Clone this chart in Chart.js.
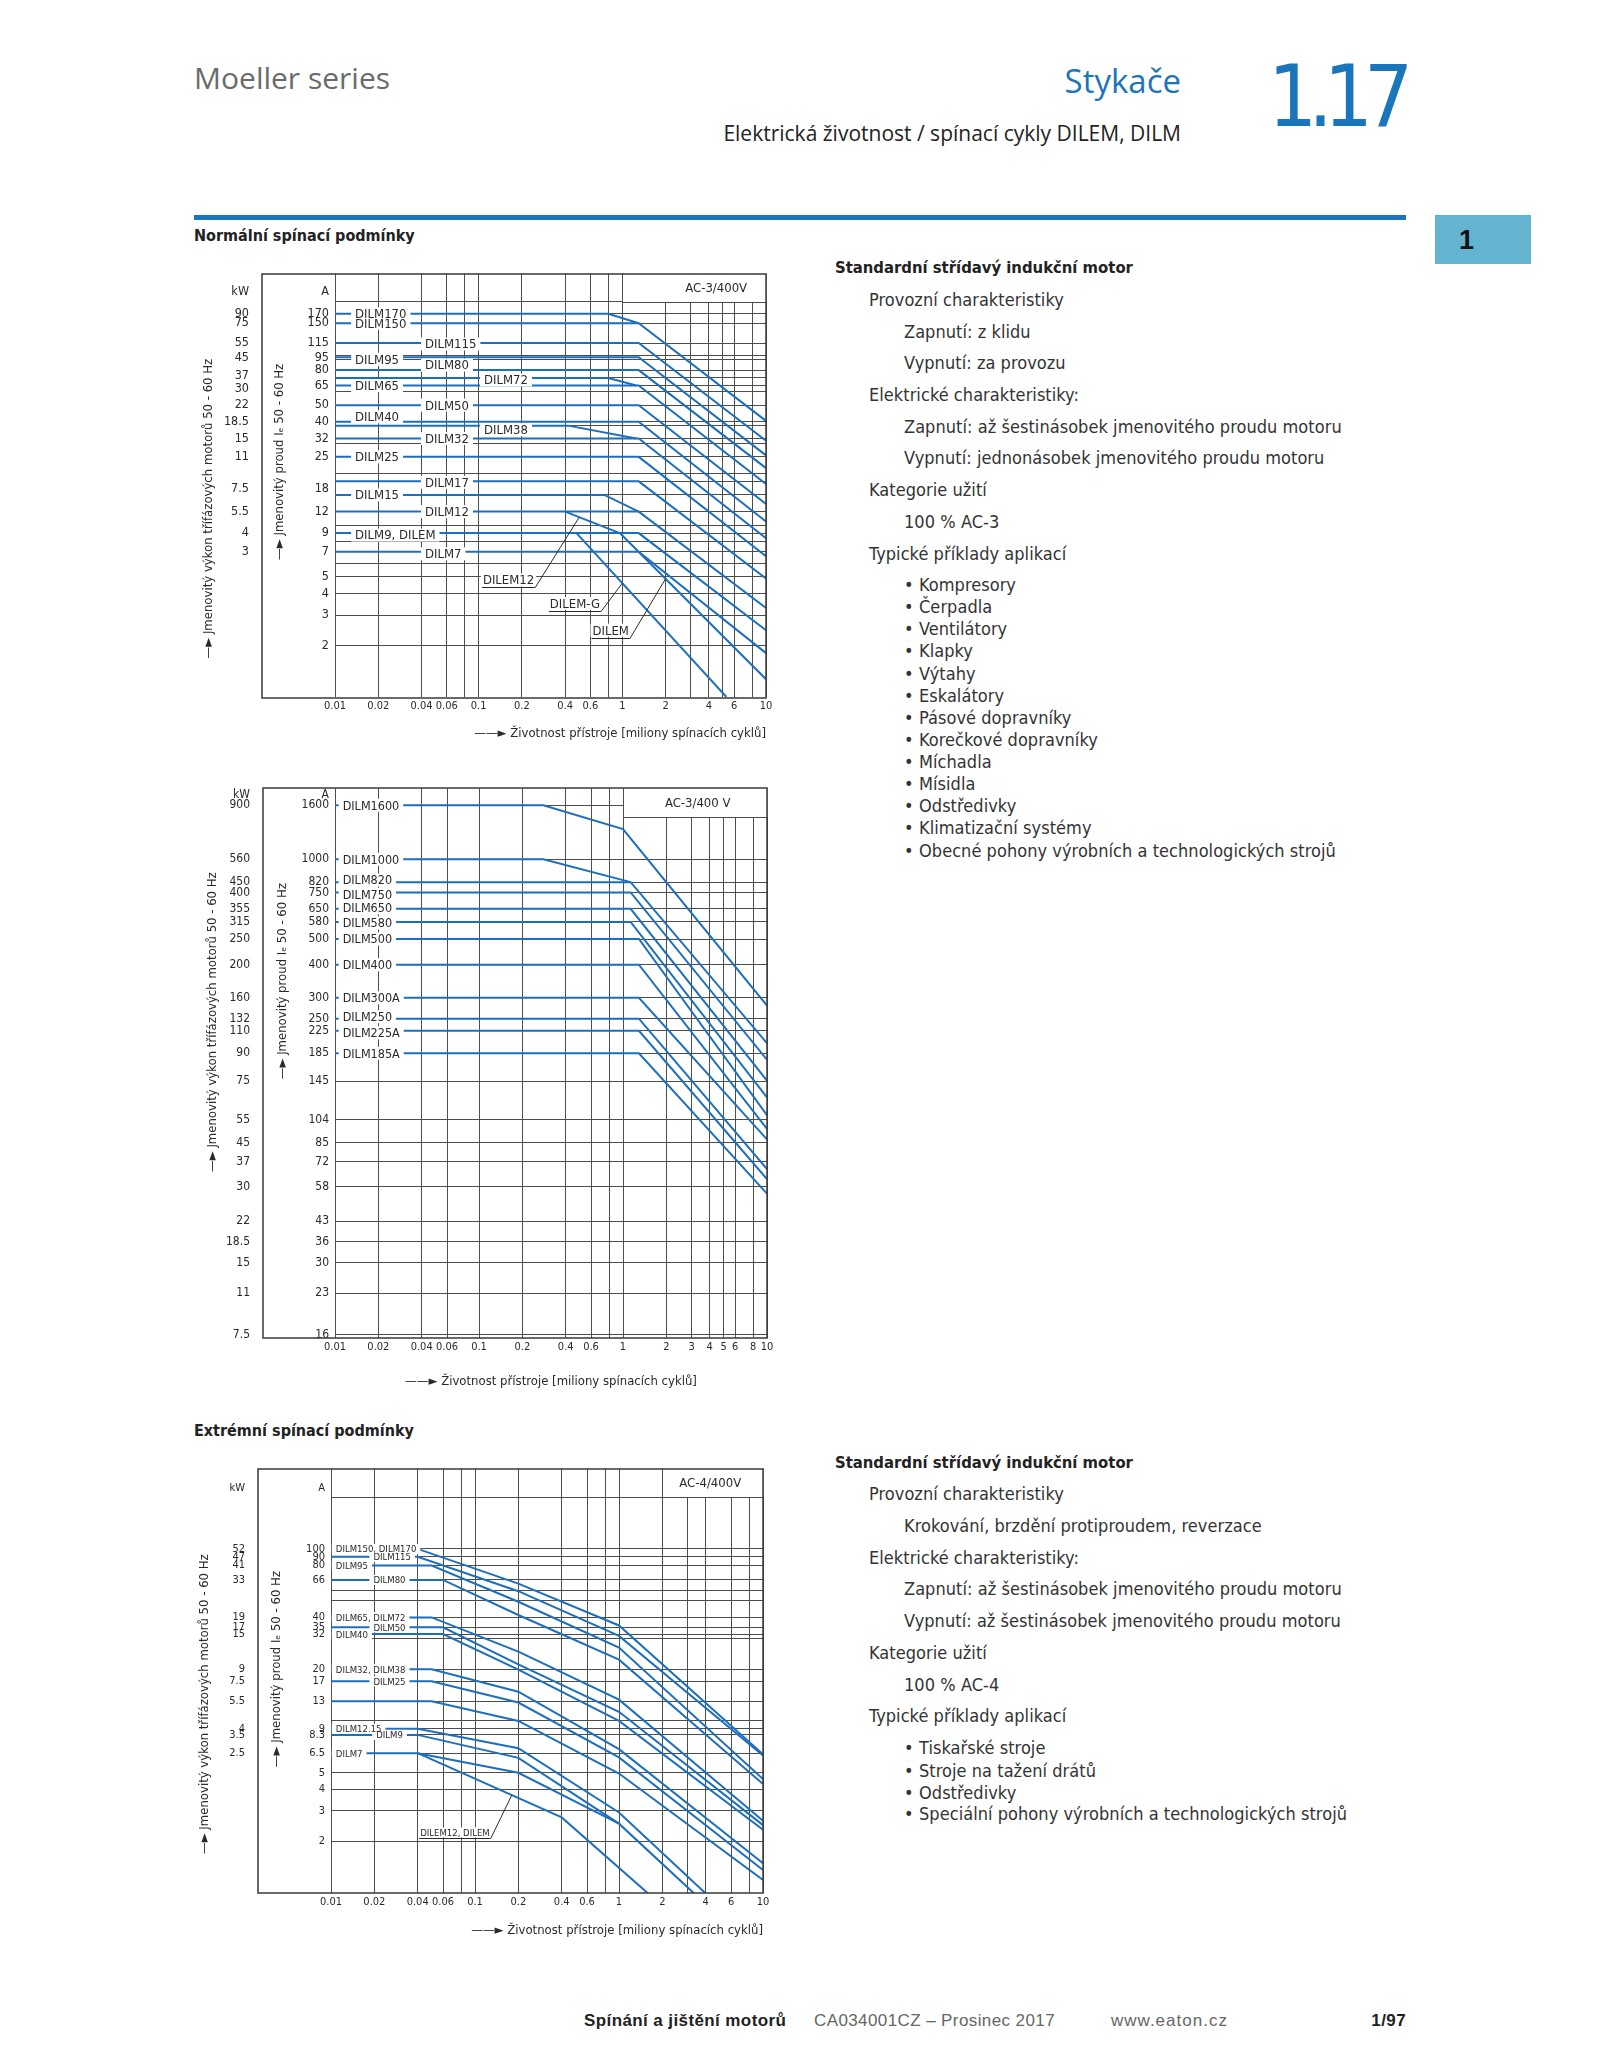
<!DOCTYPE html>
<html lang="cs">
<head>
<meta charset="utf-8">
<title>Stykače – elektrická životnost / spínací cykly DILEM, DILM</title>
<script src="https://cdn.jsdelivr.net/npm/chart.js@4.4.0/dist/chart.umd.min.js"></script>
<style>
  html, body { margin: 0; padding: 0; background: #fff; }
  body { width: 1600px; height: 2071px; position: relative; overflow: hidden;
         font-family: 'Liberation Sans', Arial, sans-serif; color: #222; }
  .t { position: absolute; white-space: nowrap; line-height: 1; transform: translateY(-50%); }
  .r { transform: translate(-100%, -50%); }
  .nar { font-family: 'Liberation Sans Narrow', 'DejaVu Sans Condensed', 'Arial Narrow', sans-serif; }
  .body { font-family: 'Liberation Sans Narrow', 'DejaVu Sans Condensed', sans-serif;
          font-size: 18px; letter-spacing: 0.05px; color: #333; }
  .head { font-family: 'Liberation Sans Narrow', 'DejaVu Sans Condensed', sans-serif;
          font-weight: bold; color: #222; }
  .bul { display: inline-block; width: 15px; }
  .foot { font-size: 17px; letter-spacing: 0.4px; }
  canvas { position: absolute; }
</style>
</head>
<body>

<!-- hlavička stránky -->
<div class="t" style="left:194px;top:78px;font-family:'Open Sans',sans-serif;font-size:30px;color:#6b6b6b">Moeller series</div>
<div class="t r" style="left:1181px;top:80px;font-family:'Open Sans',sans-serif;font-size:33px;color:#1b75bb">Stykače</div>
<div class="t r" style="left:1181px;top:133px;font-family:'Open Sans',sans-serif;font-size:21px;color:#222">Elektrická životnost / spínací cykly DILEM, DILM</div>
<div class="t nar" style="left:1268px;top:96px;font-size:86px;letter-spacing:-9px;color:#1b75bb">1.17</div>
<div style="position:absolute;left:194px;top:215px;width:1212px;height:5px;background:#1b75bb"></div>
<div style="position:absolute;left:1435px;top:215px;width:96px;height:49px;background:#63b4d1"></div>
<div class="t" style="left:1459px;top:240px;font-size:27px;font-weight:bold;color:#111">1</div>

<div class="t head" style="left:194px;top:236px;font-size:16px">Normální spínací podmínky</div>
<div class="t head" style="left:194px;top:1431px;font-size:16px">Extrémní spínací podmínky</div>

<!-- pravý sloupec, AC-3 -->
<div class="t head" style="left:835px;top:268px;font-size:16.5px">Standardní střídavý indukční motor</div>
<div class="t body" style="left:869px;top:300px">Provozní charakteristiky</div>
<div class="t body" style="left:904px;top:332px">Zapnutí: z klidu</div>
<div class="t body" style="left:904px;top:363px">Vypnutí: za provozu</div>
<div class="t body" style="left:869px;top:395px">Elektrické charakteristiky:</div>
<div class="t body" style="left:904px;top:427px">Zapnutí: až šestinásobek jmenovitého proudu motoru</div>
<div class="t body" style="left:904px;top:458px">Vypnutí: jednonásobek jmenovitého proudu motoru</div>
<div class="t body" style="left:869px;top:490px">Kategorie užití</div>
<div class="t body" style="left:904px;top:522px">100 % AC-3</div>
<div class="t body" style="left:869px;top:554px">Typické příklady aplikací</div>
<div class="t body" style="left:904px;top:585px"><span class="bul">•</span>Kompresory</div>
<div class="t body" style="left:904px;top:607px"><span class="bul">•</span>Čerpadla</div>
<div class="t body" style="left:904px;top:629px"><span class="bul">•</span>Ventilátory</div>
<div class="t body" style="left:904px;top:651px"><span class="bul">•</span>Klapky</div>
<div class="t body" style="left:904px;top:674px"><span class="bul">•</span>Výtahy</div>
<div class="t body" style="left:904px;top:696px"><span class="bul">•</span>Eskalátory</div>
<div class="t body" style="left:904px;top:718px"><span class="bul">•</span>Pásové dopravníky</div>
<div class="t body" style="left:904px;top:740px"><span class="bul">•</span>Korečkové dopravníky</div>
<div class="t body" style="left:904px;top:762px"><span class="bul">•</span>Míchadla</div>
<div class="t body" style="left:904px;top:784px"><span class="bul">•</span>Mísidla</div>
<div class="t body" style="left:904px;top:806px"><span class="bul">•</span>Odstředivky</div>
<div class="t body" style="left:904px;top:828px"><span class="bul">•</span>Klimatizační systémy</div>
<div class="t body" style="left:904px;top:851px"><span class="bul">•</span>Obecné pohony výrobních a technologických strojů</div>

<!-- pravý sloupec, AC-4 -->
<div class="t head" style="left:835px;top:1463px;font-size:16.5px">Standardní střídavý indukční motor</div>
<div class="t body" style="left:869px;top:1494px">Provozní charakteristiky</div>
<div class="t body" style="left:904px;top:1526px">Krokování, brzdění protiproudem, reverzace</div>
<div class="t body" style="left:869px;top:1558px">Elektrické charakteristiky:</div>
<div class="t body" style="left:904px;top:1589px">Zapnutí: až šestinásobek jmenovitého proudu motoru</div>
<div class="t body" style="left:904px;top:1621px">Vypnutí: až šestinásobek jmenovitého proudu motoru</div>
<div class="t body" style="left:869px;top:1653px">Kategorie užití</div>
<div class="t body" style="left:904px;top:1685px">100 % AC-4</div>
<div class="t body" style="left:869px;top:1716px">Typické příklady aplikací</div>
<div class="t body" style="left:904px;top:1748px"><span class="bul">•</span>Tiskařské stroje</div>
<div class="t body" style="left:904px;top:1771px"><span class="bul">•</span>Stroje na tažení drátů</div>
<div class="t body" style="left:904px;top:1793px"><span class="bul">•</span>Odstředivky</div>
<div class="t body" style="left:904px;top:1814px"><span class="bul">•</span>Speciální pohony výrobních a technologických strojů</div>

<!-- patička -->
<div class="t foot" style="left:584px;top:2020px;font-weight:bold;color:#222">Spínání a jištění motorů</div>
<div class="t foot" style="left:814px;top:2020px;color:#666">CA034001CZ – Prosinec 2017</div>
<div class="t foot" style="left:1111px;top:2020px;color:#666;letter-spacing:1px">www.eaton.cz</div>
<div class="t r foot" style="left:1406px;top:2020px;font-weight:bold;color:#222">1/97</div>

<canvas id="g1" width="590" height="492" style="left:190px;top:260px"></canvas>
<canvas id="g2" width="591" height="622" style="left:190px;top:775px"></canvas>
<canvas id="g3" width="591" height="492" style="left:186px;top:1456px"></canvas>

<script>
const BLUE = '#1c6fbe';
const INK = '#2a2a2a';
const GRID = '#4d4d4d';
const NARROW = "'Liberation Sans Narrow', 'DejaVu Sans Condensed', 'Arial Narrow', sans-serif";

// ---------- graf 1: normální spínací podmínky, AC-3/400V ----------
const g1XLabels = ['0.01', '0.02', '0.04', '0.06', '0.1', '0.2', '0.4', '0.6', '1', '2', '4', '6', '10'];
const g1XLabelPos = [0.01, 0.02, 0.04, 0.06, 0.1, 0.2, 0.4, 0.6, 1, 2, 4, 6, 10];
const g1XGrid = [0.01, 0.02, 0.04, 0.06, 0.08, 0.1, 0.2, 0.4, 0.6, 0.8, 1, 2, 3, 4, 5, 6, 8, 10];
const g1ALabels = ['A', '170', '150', '115', '95', '80', '65', '50', '40', '32', '25', '18', '12', '9', '7', '5', '4', '3', '2'];
const g1ALabelPos = [230, 170, 150, 115, 95, 80, 65, 50, 40, 32, 25, 16.4, 12, 9, 7, 5, 4, 3, 2];
const g1KwLabels = ['kW', '90', '75', '55', '45', '37', '30', '22', '18.5', '15', '11', '7.5', '5.5', '4', '3'];
const g1KwLabelPos = [230, 170, 150, 115, 95, 74, 62, 50, 40, 32, 25, 16.4, 12, 9, 7];
const g1YGrid = [200, 170, 150, 115, 97, 92, 80, 72, 65, 60, 50, 40, 38, 32, 30, 25, 20, 18, 15, 12, 10, 9, 8, 7, 6, 5, 4, 3, 2];

// [miliony cyklů, A]
const g1_DILM170 = [[0.01, 170], [0.8, 170], [1.3, 150]];
const g1_DILM150 = [[0.01, 150], [1.3, 150], [10, 40.5]];
const g1_DILM115 = [[0.01, 115], [1.3, 115], [10, 31]];
const g1_DILM95 = [[0.01, 95], [1.3, 95], [10, 25.5]];
const g1_DILM80 = [[0.01, 80], [1.3, 80], [10, 21.5]];
const g1_DILM72 = [[0.01, 72], [0.8, 72], [1.25, 65]];
const g1_DILM65 = [[0.01, 65], [1.3, 65], [10, 17.4]];
const g1_DILM50 = [[0.01, 50], [1.3, 50], [10, 13.3]];
const g1_DILM40 = [[0.01, 40], [1.3, 40], [10, 10.5]];
const g1_DILM38 = [[0.01, 38], [0.42, 38], [1.25, 32]];
const g1_DILM32 = [[0.01, 32], [1.3, 32], [10, 8.4]];
const g1_DILM25 = [[0.01, 25], [1.3, 25], [10, 6.6]];
const g1_DILM17 = [[0.01, 18], [1.3, 18], [10, 4.9]];
const g1_DILM15 = [[0.01, 15], [0.75, 15], [1.3, 12]];
const g1_DILM12 = [[0.01, 12], [1.3, 12], [10, 3.3]];
const g1_DILM9 = [[0.01, 9], [1.3, 9], [10, 2.45]];
const g1_DILM7 = [[0.01, 7], [1.3, 7], [10, 1.8]];
const g1_DILEM12 = [[0.4, 12], [0.96, 9]];
const g1_DILEMG = [[0.48, 9], [5.3, 1]];
const g1_DILEM = [[0.01, 9], [0.96, 9], [10, 1.27]];

// ---------- graf 2: normální spínací podmínky, velké stykače ----------
const g2XLabels = ['0.01', '0.02', '0.04', '0.06', '0.1', '0.2', '0.4', '0.6', '1', '2', '3', '4', '5', '6', '8', '10'];
const g2XLabelPos = [0.01, 0.02, 0.04, 0.06, 0.1, 0.2, 0.4, 0.6, 1, 2, 3, 4, 5, 6, 8, 10];
const g2XGrid = [0.01, 0.02, 0.04, 0.06, 0.1, 0.2, 0.4, 0.6, 0.8, 1, 2, 3, 4, 5, 6, 8, 10];
const g2ALabels = ['A', '1600', '1000', '820', '750', '650', '580', '500', '400', '300', '250', '225', '185', '145', '104', '85', '72', '58', '43', '36', '30', '23', '16'];
const g2ALabelPos = [1750, 1600, 1000, 820, 750, 650, 580, 500, 400, 300, 250, 225, 185, 145, 104, 85, 72, 58, 43, 36, 30, 23, 16];
const g2KwLabels = ['kW', '900', '560', '450', '400', '355', '315', '250', '200', '160', '132', '110', '90', '75', '55', '45', '37', '30', '22', '18.5', '15', '11', '7.5'];
const g2KwLabelPos = [1750, 1600, 1000, 820, 750, 650, 580, 500, 400, 300, 250, 225, 185, 145, 104, 85, 72, 58, 43, 36, 30, 23, 16];
const g2YGrid = [1600, 1000, 820, 750, 650, 580, 500, 400, 300, 250, 225, 185, 145, 104, 85, 72, 58, 43, 36, 30, 23, 16];

const g2_DILM1600 = [[0.01, 1600], [0.28, 1600], [1, 1300], [10, 280]];
const g2_DILM1000 = [[0.01, 1000], [0.28, 1000], [1.13, 820]];
const g2_DILM820 = [[0.01, 820], [1.13, 820], [10, 202]];
const g2_DILM750 = [[0.01, 750], [1.13, 750], [10, 175]];
const g2_DILM650 = [[0.01, 650], [1.13, 650], [10, 146]];
const g2_DILM580 = [[0.01, 580], [1.13, 580], [10, 126]];
const g2_DILM500 = [[0.01, 500], [1.29, 500], [10, 108]];
const g2_DILM400 = [[0.01, 400], [1.29, 400], [10, 96]];
const g2_DILM300A = [[0.01, 300], [1.29, 300], [10, 87.5]];
const g2_DILM250 = [[0.01, 250], [1.29, 250], [10, 67.6]];
const g2_DILM225A = [[0.01, 225], [1.29, 225], [10, 62]];
const g2_DILM185A = [[0.01, 185], [1.29, 185], [10, 54.6]];

// ---------- graf 3: extrémní spínací podmínky, AC-4/400V ----------
const g3XLabels = ['0.01', '0.02', '0.04', '0.06', '0.1', '0.2', '0.4', '0.6', '1', '2', '4', '6', '10'];
const g3XLabelPos = [0.01, 0.02, 0.04, 0.06, 0.1, 0.2, 0.4, 0.6, 1, 2, 4, 6, 10];
const g3XGrid = [0.01, 0.02, 0.04, 0.06, 0.08, 0.1, 0.2, 0.4, 0.6, 0.8, 1, 2, 3, 4, 6, 8, 10];
const g3ALabels = ['A', '100', '90', '80', '66', '40', '35', '32', '20', '17', '13', '9', '8.3', '6.5', '5', '4', '3', '2'];
const g3ALabelPos = [225, 100, 90, 80, 66, 40, 35, 32, 20, 17, 13, 9, 8.3, 6.5, 5, 4, 3, 2];
const g3KwLabels = ['kW', '52', '47', '41', '33', '19', '17', '15', '9', '7.5', '5.5', '4', '3.5', '2.5'];
const g3KwLabelPos = [225, 100, 90, 80, 66, 40, 35, 32, 20, 17, 13, 9, 8.3, 6.5];
const g3YGrid = [200, 100, 90, 80, 66, 57, 50, 40, 35, 32, 30, 20, 17, 13, 10, 9, 8.3, 6.5, 5, 4, 3, 2];

const g3_DILM170 = [[0.01, 100], [0.04, 100], [0.2, 62.8], [1, 35.9], [10, 6.4]];
const g3_DILM115 = [[0.01, 90], [0.04, 90], [0.2, 56.8], [1, 31.2], [10, 6.3]];
const g3_DILM95 = [[0.01, 80], [0.05, 80], [0.2, 49.3], [1, 26.7], [10, 4.6]];
const g3_DILM80 = [[0.01, 66], [0.06, 66], [0.2, 41.3], [1, 22.7], [10, 4.3]];
const g3_DILM72 = [[0.01, 40], [0.05, 40], [0.2, 25.3], [1, 13.3], [10, 2.63]];
const g3_DILM50 = [[0.01, 35], [0.06, 35], [0.2, 21.3], [1, 11.3], [10, 2.48]];
const g3_DILM40 = [[0.01, 32], [0.06, 32], [0.2, 19.9], [1, 10], [10, 2.33]];
const g3_DILM38 = [[0.01, 20], [0.05, 20], [0.2, 14.8], [1, 6.86], [10, 1.49]];
const g3_DILM25 = [[0.01, 17], [0.05, 17], [0.2, 12.8], [1, 6.14], [10, 1.36]];
const g3_13A = [[0.01, 13], [0.05, 13], [0.2, 10], [1, 4.95], [10, 1.19]];
const g3_DILM12 = [[0.01, 9], [0.04, 9], [0.2, 6.95], [1, 2.94], [3.97, 1]];
const g3_DILM9 = [[0.01, 8.3], [0.04, 8.3], [0.2, 6.1], [1, 2.53], [3.3, 1]];
const g3_DILM7 = [[0.01, 6.5], [0.04, 6.5], [0.2, 5], [1, 2.53]];
const g3_DILEM = [[0.04, 6.5], [0.4, 2.75], [1.58, 1]];

// popisky čar: [text, x, A, posun v px]
const g1Tags = [
  ['DILM170', 0.0138, 170, 0], ['DILM150', 0.0138, 150, 0], ['DILM95', 0.0138, 95, 2],
  ['DILM65', 0.0138, 65, 0], ['DILM40', 0.0138, 40, -5], ['DILM25', 0.0138, 25, 0],
  ['DILM15', 0.0138, 15, 0], ['DILM9, DILEM', 0.0138, 9, 2],
  ['DILM115', 0.0423, 115, 1], ['DILM80', 0.0423, 80, -5], ['DILM50', 0.0423, 50, 0],
  ['DILM32', 0.0423, 32, 0], ['DILM17', 0.0423, 18, 1], ['DILM12', 0.0423, 12, 0], ['DILM7', 0.0423, 7, 2],
  ['DILM72', 0.109, 72, 2], ['DILM38', 0.109, 38, 4]
];
const g1Leaders = [
  ['DILEM12', 0.107, 4.8, 0.5, 11.1],
  ['DILEM-G', 0.313, 3.5, 1, 4.6],
  ['DILEM', 0.62, 2.45, 2, 4.88]
];
const g2Tags = [
  ['DILM1600', 0.0113, 1600, 0], ['DILM1000', 0.0113, 1000, 0], ['DILM820', 0.0113, 820, -2],
  ['DILM750', 0.0113, 750, 2], ['DILM650', 0.0113, 650, -1], ['DILM580', 0.0113, 580, 1],
  ['DILM500', 0.0113, 500, 0], ['DILM400', 0.0113, 400, 0], ['DILM300A', 0.0113, 300, 0],
  ['DILM250', 0.0113, 250, -2], ['DILM225A', 0.0113, 225, 2], ['DILM185A', 0.0113, 185, 0]
];
const g3Tags = [
  ['DILM150, DILM170', 0.0108, 100, 0], ['DILM115', 0.0197, 90, 0], ['DILM95', 0.0108, 80, 0],
  ['DILM80', 0.0197, 66, 0], ['DILM65, DILM72', 0.0108, 40, 0], ['DILM50', 0.0197, 35, 0],
  ['DILM40', 0.0108, 32, 0], ['DILM32, DILM38', 0.0108, 20, 0], ['DILM25', 0.0197, 17, 0],
  ['DILM12.15', 0.0108, 9, 0], ['DILM9', 0.0206, 8.3, 0], ['DILM7', 0.0108, 6.5, 0]
];
const g3Leaders = [['DILEM12, DILEM', 0.0416, 2.25, 0.18, 3.7]];

// mezery (em space) posouvají svislé popisky os podél osy jako v předloze
const SP = n => '\u2003'.repeat(n);
const TITLE_KW = '—► Jmenovitý výkon třífázových motorů 50 - 60 Hz';
const TITLE_A = '—► Jmenovitý proud Iₑ 50 - 60 Hz';
const TITLE_X = '——► Životnost přístroje [miliony spínacích cyklů]';

// spojí popsané hodnoty a mřížku do jednoho seznamu ticků
function ticksFrom(pos, labels, grid) {
  const map = new Map();
  grid.forEach(v => map.set(v, { value: v, label: '', grid: true }));
  pos.forEach((v, i) => {
    const t = map.get(v) || { value: v, label: '', grid: false };
    t.label = labels[i];
    map.set(v, t);
  });
  return [...map.values()].sort((a, b) => a.value - b.value);
}

function decor(c) {
  return {
    id: 'decor',
    beforeDatasetsDraw(chart) {
      // rámeček s kategorií v pravém horním rohu
      const { ctx, chartArea: a, scales: { x, yA } } = chart;
      const l = Math.round(x.getPixelForValue(c.box.from)) + 0.5;
      const b = Math.round(yA.getPixelForValue(c.box.down)) + 0.5;
      ctx.save();
      ctx.fillStyle = '#fff';
      ctx.fillRect(l + 0.5, a.top, a.right - l, b - a.top - 0.5);
      ctx.strokeStyle = GRID;
      ctx.lineWidth = 1;
      ctx.beginPath();
      ctx.moveTo(l, a.top);
      ctx.lineTo(l, b);
      ctx.lineTo(a.right, b);
      ctx.stroke();
      ctx.fillStyle = INK;
      ctx.font = `13px ${NARROW}`;
      ctx.textAlign = 'center';
      ctx.textBaseline = 'middle';
      ctx.fillText(c.box.text, x.getPixelForValue(c.box.at), (a.top + b) / 2 + 1);
      ctx.restore();
    },
    afterDatasetsDraw(chart) {
      const { ctx, scales: { x, yA } } = chart;
      ctx.save();
      ctx.font = `${c.tagSize}px ${NARROW}`;
      ctx.textAlign = 'left';
      ctx.textBaseline = 'middle';
      const h = Math.round(c.tagSize * 0.78) + 3;
      const items = c.tags.map(([t, xv, yv, dy]) => ({
        t, px: x.getPixelForValue(xv), py: yA.getPixelForValue(yv) + dy, w: ctx.measureText(t).width
      }));
      ctx.fillStyle = '#fff';
      items.forEach(it => ctx.fillRect(it.px - 4, it.py - h / 2, it.w + 8, h));
      ctx.fillStyle = INK;
      items.forEach(it => ctx.fillText(it.t, it.px, it.py + 1));

      // popisky s odkazovou čarou
      (c.leaders || []).forEach(([t, xv, yv, tx, ty]) => {
        const px = x.getPixelForValue(xv), py = yA.getPixelForValue(yv);
        const w = ctx.measureText(t).width;
        ctx.fillStyle = '#fff';
        ctx.fillRect(px - 2, py - h / 2, w + 4, h);
        ctx.fillStyle = INK;
        ctx.fillText(t, px, py + 1);
        const uy = Math.round(py + h / 2 + 1) + 0.5;
        ctx.strokeStyle = INK;
        ctx.lineWidth = 1;
        ctx.beginPath();
        ctx.moveTo(px - 1, uy);
        ctx.lineTo(px + w + 1, uy);
        ctx.lineTo(x.getPixelForValue(tx), yA.getPixelForValue(ty));
        ctx.stroke();
      });
      ctx.restore();
    },
    afterDraw(chart) {
      // vnější rámeček kolem osy A a plochy grafu
      const { ctx, chartArea: a, scales: { yA } } = chart;
      ctx.save();
      ctx.strokeStyle = '#3a3a3a';
      ctx.lineWidth = 1.5;
      ctx.strokeRect(Math.round(yA.left), Math.round(a.top), Math.round(a.right - yA.left), Math.round(a.bottom - a.top));
      ctx.restore();
    }
  };
}

function makeChart(id, c) {
  const xT = ticksFrom(c.xPos, c.xLabels, c.xGrid);
  const aT = ticksFrom(c.aPos, c.aLabels, c.yGrid);
  const kT = ticksFrom(c.kPos, c.kLabels, []);
  const tickFont = { family: NARROW, size: c.tickSize };
  const titleFont = { family: NARROW, size: 13 };
  const gridColor = list => ctx => (list[ctx.index] && list[ctx.index].grid) ? GRID : 'rgba(0,0,0,0)';

  return new Chart(document.getElementById(id), {
    type: 'scatter',
    data: {
      datasets: c.lines.map(([name, pts]) => ({
        label: name,
        data: pts.map(([x, y]) => ({ x, y })),
        showLine: true,
        borderColor: BLUE,
        borderWidth: 2,
        pointRadius: 0,
        tension: 0,
        xAxisID: 'x',
        yAxisID: 'yA'
      }))
    },
    options: {
      responsive: false,
      animation: false,
      devicePixelRatio: 1,
      events: [],
      layout: { padding: { left: 8, top: 10, right: 14, bottom: 7 } },
      plugins: { legend: { display: false }, tooltip: { enabled: false } },
      scales: {
        x: {
          type: 'logarithmic', position: 'bottom', min: 0.01, max: 10,
          afterBuildTicks: s => { s.ticks = xT.map(t => ({ value: t.value })); },
          afterFit: s => { s.height = c.hX; },
          ticks: { autoSkip: false, maxRotation: 0, minRotation: 0, padding: 3, color: INK,
                   font: { family: NARROW, size: 11 }, callback: (v, i) => xT[i].label },
          grid: { drawTicks: false, lineWidth: 1, color: gridColor(xT) },
          border: { display: false },
          title: { display: true, text: TITLE_X, align: c.xTitleAlign, color: INK, font: titleFont,
                   padding: { top: 0, bottom: c.xTitlePad } }
        },
        yA: {
          type: 'logarithmic', position: 'left', weight: 0, min: c.yMin, max: c.yMax,
          afterBuildTicks: s => { s.ticks = aT.map(t => ({ value: t.value })); },
          afterFit: s => { s.width = c.wA; },
          ticks: { autoSkip: false, padding: 6, color: INK, font: tickFont, callback: (v, i) => aT[i].label },
          grid: { drawTicks: false, lineWidth: 1, color: gridColor(aT) },
          border: { display: false },
          title: { display: true, text: c.aTitle, color: INK, font: titleFont, padding: { top: c.aTitlePad, bottom: 0 } }
        },
        yK: {
          type: 'logarithmic', position: 'left', weight: 1, min: c.yMin, max: c.yMax,
          afterBuildTicks: s => { s.ticks = kT.map(t => ({ value: t.value })); },
          afterFit: s => { s.width = c.wK; },
          ticks: { autoSkip: false, padding: 5, color: INK, font: tickFont, callback: (v, i) => kT[i].label },
          grid: { display: false },
          border: { display: false },
          title: { display: true, text: c.kTitle, color: INK, font: titleFont, padding: { top: c.kTitlePad, bottom: 0 } }
        }
      }
    },
    plugins: [decor(c)]
  });
}

makeChart('g1', {
  xPos: g1XLabelPos, xLabels: g1XLabels, xGrid: g1XGrid,
  aPos: g1ALabelPos, aLabels: g1ALabels, kPos: g1KwLabelPos, kLabels: g1KwLabels, yGrid: g1YGrid,
  yMin: 1, yMax: 292, wK: 64, wA: 73, hX: 48, xTitlePad: 4, xTitleAlign: 'end', aTitlePad: 10, kTitlePad: 3,
  aTitle: SP(4) + TITLE_A, kTitle: TITLE_KW + SP(4), tickSize: 12.5,
  box: { from: 1, down: 200, text: 'AC-3/400V', at: 4.5 },
  tags: g1Tags, leaders: g1Leaders, tagSize: 13,
  lines: [
    ['DILM170', g1_DILM170], ['DILM150', g1_DILM150], ['DILM115', g1_DILM115], ['DILM95', g1_DILM95],
    ['DILM80', g1_DILM80], ['DILM72', g1_DILM72], ['DILM65', g1_DILM65], ['DILM50', g1_DILM50],
    ['DILM40', g1_DILM40], ['DILM38', g1_DILM38], ['DILM32', g1_DILM32], ['DILM25', g1_DILM25],
    ['DILM17', g1_DILM17], ['DILM15', g1_DILM15], ['DILM12', g1_DILM12], ['DILM9', g1_DILM9],
    ['DILM7', g1_DILM7], ['DILEM12', g1_DILEM12], ['DILEM-G', g1_DILEMG], ['DILEM', g1_DILEM]
  ]
});

makeChart('g2', {
  xPos: g2XLabelPos, xLabels: g2XLabels, xGrid: g2XGrid,
  aPos: g2ALabelPos, aLabels: g2ALabels, kPos: g2KwLabelPos, kLabels: g2KwLabels, yGrid: g2YGrid,
  yMin: 15.56, yMax: 1856, wK: 65, wA: 72, hX: 52, xTitlePad: 1, xTitleAlign: 'center', aTitlePad: 12, kTitlePad: 7,
  aTitle: SP(14) + TITLE_A, kTitle: SP(7) + TITLE_KW, tickSize: 12,
  box: { from: 1, down: 1450, text: 'AC-3/400 V', at: 3.3 },
  tags: g2Tags, tagSize: 12.5,
  lines: [
    ['DILM1600', g2_DILM1600], ['DILM1000', g2_DILM1000], ['DILM820', g2_DILM820], ['DILM750', g2_DILM750],
    ['DILM650', g2_DILM650], ['DILM580', g2_DILM580], ['DILM500', g2_DILM500], ['DILM400', g2_DILM400],
    ['DILM300A', g2_DILM300A], ['DILM250', g2_DILM250], ['DILM225A', g2_DILM225A], ['DILM185A', g2_DILM185A]
  ]
});

makeChart('g3', {
  xPos: g3XLabelPos, xLabels: g3XLabels, xGrid: g3XGrid,
  aPos: g3ALabelPos, aLabels: g3ALabels, kPos: g3KwLabelPos, kLabels: g3KwLabels, yGrid: g3YGrid,
  yMin: 1, yMax: 293, wK: 64, wA: 73, hX: 48, xTitlePad: 3, xTitleAlign: 'end', aTitlePad: 11, kTitlePad: 3,
  aTitle: SP(2) + TITLE_A, kTitle: TITLE_KW + SP(4), tickSize: 11,
  box: { from: 2, down: 200, text: 'AC-4/400V', at: 4.3 },
  tags: g3Tags, leaders: g3Leaders, tagSize: 9.5,
  lines: [
    ['DILM150, DILM170', g3_DILM170], ['DILM115', g3_DILM115], ['DILM95', g3_DILM95], ['DILM80', g3_DILM80],
    ['DILM65, DILM72', g3_DILM72], ['DILM50', g3_DILM50], ['DILM40', g3_DILM40], ['DILM32, DILM38', g3_DILM38],
    ['DILM25', g3_DILM25], ['13 A', g3_13A], ['DILM12.15', g3_DILM12], ['DILM9', g3_DILM9],
    ['DILM7', g3_DILM7], ['DILEM12, DILEM', g3_DILEM]
  ]
});
</script>
</body>
</html>
